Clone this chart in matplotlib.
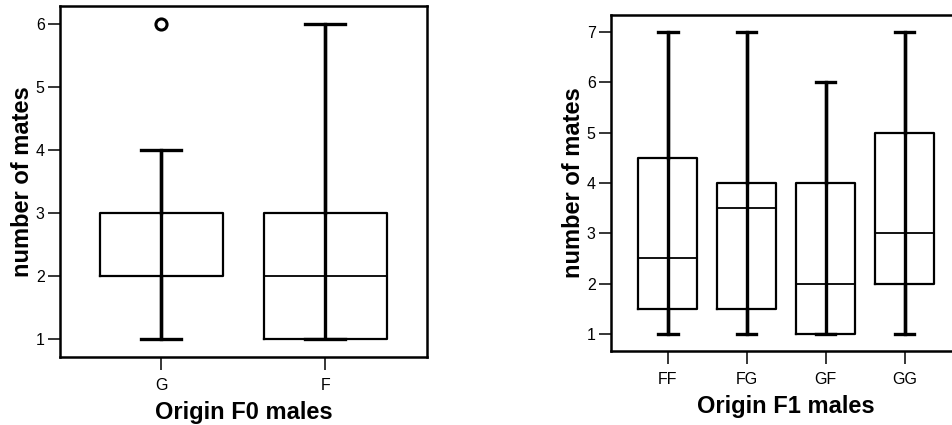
import matplotlib.pyplot as plt

plt.rcParams['font.family'] = ['Liberation Sans', 'DejaVu Sans']

# F0 males
f0_labels = ['G', 'F']
f0_whislo = [1, 1]
f0_q1 = [2, 1]
f0_med = [2, 2]
f0_q3 = [3, 3]
f0_whishi = [4, 6]
f0_fliers = [[6], []]

# F1 males
f1_labels = ['FF', 'FG', 'GF', 'GG']
f1_whislo = [1, 1, 1, 1]
f1_q1 = [1.5, 1.5, 1, 2]
f1_med = [2.5, 3.5, 2, 3]
f1_q3 = [4.5, 4, 4, 5]
f1_whishi = [7, 7, 6, 7]
f1_fliers = [[], [], [], []]


def make_stats(labels, lo, q1, med, q3, hi, fl):
    out = []
    for i in range(len(labels)):
        out.append(dict(label=labels[i], whislo=lo[i], q1=q1[i], med=med[i],
                        q3=q3[i], whishi=hi[i], fliers=fl[i]))
    return out


def draw(ax, stats, xlabel, ylim, xlim, yticks):
    ax.bxp(stats, widths=0.75,
           boxprops=dict(color='black', linewidth=1.6),
           medianprops=dict(color='black', linewidth=1.3),
           whiskerprops=dict(color='black', linewidth=2.4),
           capprops=dict(color='black', linewidth=2.4),
           capwidths=0.245,
           flierprops=dict(marker='o', markerfacecolor='none', markeredgecolor='black',
                           markersize=8, markeredgewidth=2.2))
    # whisker line runs straight through the box
    pos = list(range(1, len(stats) + 1))
    ax.vlines(pos, [s['whislo'] for s in stats], [s['whishi'] for s in stats],
              color='black', linewidth=2.4, zorder=3)
    ax.set_ylim(*ylim)
    ax.set_xlim(*xlim)
    ax.set_yticks(yticks)
    for s in ax.spines.values():
        s.set_linewidth(1.8)
    ax.tick_params(direction='out', length=9, width=1.1, labelsize=11.5, pad=2)
    ax.tick_params(axis='x', pad=6)
    ax.set_xlabel(xlabel, fontsize=17, fontweight='bold', labelpad=6)
    ax.set_ylabel('number of mates', fontsize=17, fontweight='bold', labelpad=1)


fig = plt.figure(figsize=(9.52, 4.25), dpi=100)
ax1 = fig.add_axes([60 / 952, (425 - 357) / 425, 367 / 952, 351 / 425])
ax2 = fig.add_axes([611 / 952, (425 - 351) / 425, 349 / 952, 336 / 425])

draw(ax1, make_stats(f0_labels, f0_whislo, f0_q1, f0_med, f0_q3, f0_whishi, f0_fliers),
     'Origin F0 males', (0.714, 6.286), (0.384, 2.62), [1, 2, 3, 4, 5, 6])
draw(ax2, make_stats(f1_labels, f1_whislo, f1_q1, f1_med, f1_q3, f1_whishi, f1_fliers),
     'Origin F1 males', (0.662, 7.338), (0.28, 4.70), [1, 2, 3, 4, 5, 6, 7])

fig.savefig('out.png', dpi=100)
